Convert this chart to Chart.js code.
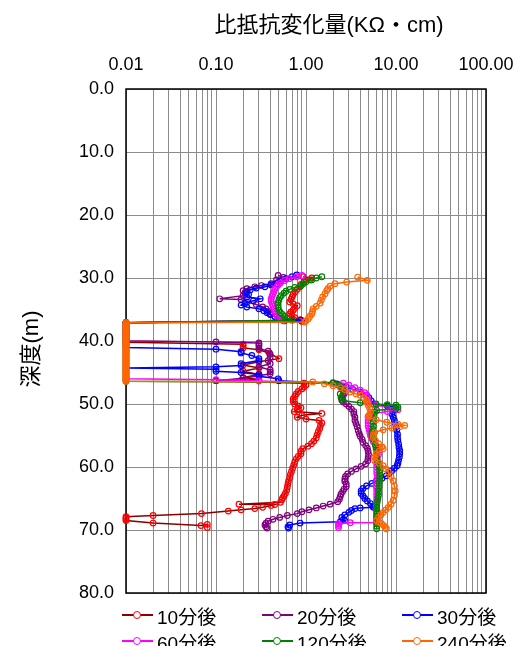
<!DOCTYPE html>
<html><head><meta charset="utf-8">
<script src="https://cdn.jsdelivr.net/npm/chart.js@4/dist/chart.umd.min.js"></script>
<style>
html,body{margin:0;padding:0;background:#fff;}
#wrap{position:relative;width:528px;height:646px;overflow:hidden;}
#c{position:absolute;left:0;top:0;}
#overlay{position:absolute;left:0;top:0;width:528px;height:646px;pointer-events:none;font-family:'Liberation Sans','Noto Sans CJK JP',sans-serif;color:#000;}
.item{position:absolute;height:20px;display:flex;align-items:center;white-space:nowrap;font-size:19px;}
.sample{position:relative;width:31px;height:20px;margin-right:4px;}
.sample .ln{position:absolute;left:0;right:0;top:9px;height:2px;}
.sample .pt{position:absolute;left:11px;top:6px;width:6px;height:6px;border:1px solid;border-radius:50%;background:#fff;}
.axt{position:absolute;font-size:22px;line-height:26px;height:26px;white-space:nowrap;text-align:center;width:300px;}
#xt{left:179px;top:12px;}
#yt{left:-119px;top:336px;transform:rotate(-90deg);transform-origin:150px 13px;}
</style></head>
<body>
<div id="wrap"><canvas id="c" width="528" height="646"></canvas>
<div id="overlay"><div class="axt" id="xt"></div><div class="axt" id="yt"></div></div></div>
<script>
const xTitle = '比抵抗変化量(KΩ・cm)';
const yTitle = '深度(m)';
const seriesLabels = ['10分後','20分後','30分後','60分後','120分後','240分後'];
const xGridValues = [0.01,0.02,0.03,0.04,0.05,0.06,0.07,0.08,0.09,
  0.1,0.2,0.3,0.4,0.5,0.6,0.7,0.8,0.9,
  1,2,3,4,5,6,7,8,9,
  10,20,30,40,50,60,70,80,90,100];
const xLabelValues = [0.01,0.1,1,10,100];
const xLabelTexts = ['0.01','0.10','1.00','10.00','100.00'];
const yTickValues = [0,10,20,30,40,50,60,70,80];

// 10分後
const depth10 = [29.8,30.0,30.3,30.6,31.0,31.4,31.8,32.2,32.6,33.0,
  33.4,33.8,34.1,34.4,34.8,35.1,35.4,35.7,36.0,36.3,
  36.6,36.9,
  37.1,37.6,38.1,38.6,39.1,39.6,40.2,
  40.5,40.8,41.1,41.4,41.9,42.8,43.3,43.8,44.3,44.8,
  45.3,45.8,46.1,46.3,
  46.7,47.0,47.3,47.6,48.0,48.4,48.8,49.2,49.6,50.0,
  50.3,50.6,50.9,51.2,51.5,51.8,52.1,52.4,52.6,53.0,
  53.4,53.9,54.4,54.9,55.4,55.9,56.3,56.7,57.1,57.5,
  57.9,58.3,58.7,59.2,59.7,60.2,60.7,61.2,61.7,62.2,
  62.7,63.2,63.7,64.2,64.6,64.9,65.2,65.6,65.9,65.95,
  66.1,66.4,66.6,66.8,67.0,67.4,67.7,67.9,68.1,68.3,
  68.5,68.9,69.3,69.1,69.6];
const val10 = [0.93,1.16,1.10,0.95,0.88,0.86,0.80,0.76,0.72,0.70,
  0.68,0.66,0.72,0.80,0.75,0.72,0.68,0.66,0.70,0.75,
  0.86,0.90,
  0.01,0.01,0.01,0.01,0.01,0.01,0.01,
  0.2,0.2,0.2,0.3,0.39,0.5,0.3,0.2,0.3,0.2,
  0.3,0.2,0.3,0.1,
  0.95,1.0,0.95,0.9,0.82,0.78,0.75,0.72,0.72,0.75,
  0.82,0.88,0.80,0.74,1.5,0.9,0.8,1.0,1.4,1.5,
  1.45,1.42,1.37,1.33,1.3,1.22,1.15,1.05,0.92,0.88,
  0.88,0.82,0.78,0.75,0.73,0.71,0.69,0.67,0.66,0.64,
  0.63,0.62,0.61,0.59,0.57,0.55,0.54,0.52,0.18,0.45,
  0.41,0.33,0.27,0.19,0.137,0.069,0.02,0.01,0.01,0.01,
  0.01,0.02,0.068,0.08,0.08];

// 20分後
const depth20 = [29.6,29.9,30.3,30.9,31.2,31.4,31.7,32.0,32.4,32.8,
  33.3,33.4,33.8,34.2,34.6,34.9,35.3,35.7,36.1,36.5,
  36.8,
  37.1,37.6,38.1,38.6,39.1,39.6,39.95,
  40.15,40.3,40.55,40.8,41.2,41.6,42.1,42.6,43.1,43.6,
  44.1,44.6,44.9,45.2,45.5,45.9,46.3,
  46.7,47.0,47.4,47.8,48.2,48.6,49.0,49.4,49.7,50.0,
  50.4,50.8,51.2,51.6,52.1,52.6,53.1,53.6,54.2,54.7,
  55.1,55.6,56.1,56.6,57.0,57.5,58.0,58.5,59.0,59.5,
  59.9,60.3,60.7,61.1,61.5,61.9,62.3,62.7,63.1,63.5,
  63.9,64.3,64.7,65.1,65.5,65.9,66.2,66.5,66.8,67.1,
  67.4,67.7,68.0,68.3,68.6,68.9,69.2,69.5,69.7];
const val20 = [0.49,0.56,0.47,0.41,0.32,0.27,0.22,0.2,0.21,0.2,
  0.11,0.19,0.22,0.28,0.33,0.36,0.38,0.4,0.45,0.52,
  0.58,
  0.01,0.01,0.01,0.01,0.01,0.01,0.01,
  0.1,0.3,0.3,0.3,0.3,0.38,0.4,0.4,0.38,0.4,
  0.3,0.4,0.4,0.4,0.3,0.2,0.1,
  2.0,2.3,2.5,2.6,2.7,2.6,2.5,2.5,2.6,2.8,
  3.0,3.2,3.4,3.4,3.5,3.5,3.6,3.7,3.8,3.9,
  4.0,4.2,4.3,4.6,4.8,4.9,4.95,4.9,4.85,4.6,
  4.1,3.6,3.2,2.9,2.75,2.7,2.7,2.8,2.8,2.65,
  2.55,2.45,2.4,2.35,2.25,1.85,1.55,1.3,1.08,0.9,
  0.8,0.62,0.51,0.43,0.38,0.36,0.35,0.36,0.37];

// 30分後
const depth30 = [29.5,29.8,30.1,30.5,30.9,31.1,31.4,31.6,31.9,32.2,
  32.6,33.0,33.3,33.6,34.0,34.3,34.6,34.9,35.2,35.5,
  35.8,36.1,36.4,36.7,
  37.1,37.6,38.1,38.6,39.1,39.6,40.1,40.6,41.05,
  41.3,41.7,41.9,42.3,42.8,43.1,43.6,43.9,44.1,44.3,
  44.5,44.8,45.0,45.3,45.6,46.0,46.3,
  46.8,47.1,47.3,47.7,48.1,48.6,49.0,49.5,50.0,50.3,
  50.5,50.8,51.2,51.6,52.1,52.6,53.1,53.7,54.2,54.8,
  55.3,55.8,56.4,56.9,57.4,57.9,58.4,58.9,59.4,59.8,
  60.2,60.6,61.0,61.4,61.8,62.2,62.6,63.0,63.4,63.8,
  64.2,64.6,65.0,65.4,65.8,66.2,66.4,66.5,66.6,66.9,
  67.2,67.6,68.0,68.3,68.5,68.7,68.9,69.2,69.5,69.7];
const val30 = [0.79,0.7,0.6,0.52,0.47,0.41,0.35,0.28,0.24,0.22,
  0.23,0.22,0.31,0.26,0.21,0.19,0.22,0.3,0.34,0.37,
  0.4,0.45,0.52,0.88,
  0.01,0.01,0.01,0.01,0.01,0.01,0.01,0.01,0.01,
  0.1,0.19,0.19,0.25,0.3,0.3,0.19,0.19,0.1,0.01,
  0.1,0.1,0.19,0.3,0.3,0.49,0.5,
  2.2,2.4,2.8,3.3,4.0,4.7,5.0,5.3,5.6,8.0,
  10.0,9.5,9.2,9.0,9.3,9.6,9.8,10.0,10.2,10.4,
  10.4,10.5,10.7,10.8,11.0,11.0,10.9,10.7,10.5,10.3,
  9.6,9.0,8.4,7.8,7.0,6.1,5.4,4.7,4.3,4.1,
  4.1,4.3,4.5,4.8,5.2,5.5,5.6,4.0,3.5,3.2,
  3.0,2.7,2.5,2.6,2.7,2.4,0.86,0.66,0.63,0.64];

// 60分後
const depth60 = [29.6,29.8,30.1,30.4,30.8,31.1,31.4,31.8,32.2,32.5,
  32.9,33.3,33.7,34.1,34.5,34.9,35.3,35.7,36.1,36.5,
  36.8,
  37.1,37.6,38.1,38.6,39.1,39.6,40.1,40.6,41.1,41.6,
  42.1,42.6,43.1,43.6,44.1,44.6,45.1,45.6,46.0,
  46.15,46.35,
  46.7,47.0,47.4,47.8,48.2,48.6,49.0,49.4,49.8,50.2,
  50.6,50.9,51.2,51.6,52.0,52.5,53.0,53.5,54.0,54.5,
  55.0,55.5,56.0,56.5,57.0,57.5,58.0,58.5,59.0,59.5,
  60.0,60.5,61.0,61.5,62.0,62.5,63.0,63.5,64.0,64.5,
  65.0,65.5,66.0,66.5,67.0,67.5,68.0,68.5,68.8,68.85,
  69.0,69.3,69.6];
const val60 = [0.9,0.79,0.65,0.58,0.52,0.49,0.47,0.45,0.44,0.43,
  0.42,0.41,0.41,0.42,0.43,0.44,0.45,0.46,0.48,0.52,
  0.56,
  0.01,0.01,0.01,0.01,0.01,0.01,0.01,0.01,0.01,0.01,
  0.01,0.01,0.01,0.01,0.01,0.01,0.01,0.01,0.01,
  0.1,0.3,
  2.6,3.0,3.5,4.0,4.5,4.7,4.8,4.9,5.0,6.0,
  9.0,10.5,8.0,5.2,4.9,4.9,4.9,4.9,5.0,5.1,
  5.2,5.4,5.6,5.9,6.3,6.5,6.4,6.2,6.1,6.1,
  6.1,6.1,6.1,6.2,6.1,6.1,6.0,6.1,6.1,6.1,
  6.1,6.1,6.1,6.1,6.1,6.1,6.1,6.1,6.1,3.1,
  2.3,2.3,2.3];

// 120分後
const depth120 = [29.8,30.0,30.3,30.6,30.9,31.2,31.5,31.8,32.1,32.4,
  32.8,33.1,33.5,33.9,34.3,34.7,35.1,35.5,35.8,36.1,
  36.4,36.7,
  37.1,37.6,38.1,38.6,39.1,39.6,40.1,40.6,41.1,41.6,
  42.1,42.6,43.1,43.6,44.1,44.6,45.1,45.6,46.1,46.4,
  46.6,47.0,47.4,47.9,48.4,49.0,49.5,49.8,50.0,50.1,
  50.2,50.5,50.8,51.0,51.3,51.8,52.3,52.9,53.5,54.0,
  54.5,55.0,55.5,56.0,56.5,57.0,57.5,58.0,58.5,59.0,
  59.5,60.0,60.5,61.0,61.5,62.0,62.5,63.0,63.5,64.0,
  64.5,65.0,65.5,66.0,66.5,67.0,67.5,68.0,68.5,69.0,
  69.4,69.8];
const val120 = [1.5,1.3,1.16,1.0,0.93,0.88,0.75,0.66,0.6,0.57,
  0.53,0.51,0.5,0.49,0.49,0.49,0.5,0.52,0.55,0.58,
  0.62,0.7,
  0.01,0.01,0.01,0.01,0.01,0.01,0.01,0.01,0.01,0.01,
  0.01,0.01,0.01,0.01,0.01,0.01,0.01,0.01,0.01,0.01,
  2.0,2.3,2.5,2.6,2.4,2.45,2.6,4.0,6.0,8.0,
  10.0,10.5,10.0,6.1,5.8,5.7,5.6,5.6,5.6,5.5,
  5.4,5.4,5.6,5.8,5.9,6.0,6.1,6.1,6.1,6.2,
  6.4,6.5,6.6,6.6,6.6,6.6,6.5,6.5,6.4,6.4,
  6.4,6.3,6.2,6.1,6.1,6.1,6.1,6.1,6.1,6.1,
  6.1,6.1];

// 240分後
const depth240 = [29.85,30.37,30.64,30.9,31.3,31.7,32.0,32.5,33.0,33.5,
  34.0,34.5,34.9,35.3,35.7,36.1,36.45,36.8,37.0,
  37.1,37.25,37.4,37.55,37.7,37.85,38.0,38.15,38.3,38.45,
  38.6,38.75,38.9,39.05,39.2,39.35,39.5,39.65,39.8,39.95,
  40.1,40.25,40.4,40.55,40.7,40.85,41.0,41.15,41.3,41.45,
  41.6,41.75,41.9,42.05,42.2,42.35,42.5,42.65,42.8,42.95,
  43.1,43.25,43.4,43.55,43.7,43.85,44.0,44.15,44.3,44.45,
  44.6,44.75,44.9,45.05,45.2,45.35,45.5,45.65,45.8,45.95,
  46.1,46.25,46.4,
  46.5,46.8,47.1,47.4,47.7,48.1,48.4,48.6,49.0,49.4,
  49.8,50.2,50.7,51.3,51.8,52.1,52.5,52.9,53.2,53.4,
  53.6,53.8,54.1,54.5,54.9,55.3,55.8,56.3,56.8,57.1,
  57.5,57.9,58.4,59.0,59.4,59.8,60.3,60.8,61.5,62.2,
  63.0,63.8,64.5,65.3,65.9,66.4,66.8,67.2,67.6,68.0,
  68.5,68.8,69.0,69.3,69.6,69.8];
const val240 = [3.75,4.8,2.83,2.1,1.85,1.75,1.7,1.63,1.53,1.48,
  1.43,1.3,1.2,1.18,1.16,1.1,1.06,1.0,0.97,
  0.01,0.01,0.01,0.01,0.01,0.01,0.01,0.01,0.01,0.01,
  0.01,0.01,0.01,0.01,0.01,0.01,0.01,0.01,0.01,0.01,
  0.01,0.01,0.01,0.01,0.01,0.01,0.01,0.01,0.01,0.01,
  0.01,0.01,0.01,0.01,0.01,0.01,0.01,0.01,0.01,0.01,
  0.01,0.01,0.01,0.01,0.01,0.01,0.01,0.01,0.01,0.01,
  0.01,0.01,0.01,0.01,0.01,0.01,0.01,0.01,0.01,0.01,
  0.01,0.01,0.01,
  1.19,1.6,2.0,2.4,2.7,3.1,3.6,4.0,4.4,4.7,
  4.8,4.9,5.1,5.2,5.0,4.9,6.0,7.9,10.5,12.5,
  11.0,9.0,7.2,5.8,5.6,5.6,5.9,6.4,7.0,7.2,
  6.5,6.1,5.8,5.8,6.5,7.2,7.7,8.2,8.8,9.3,
  9.6,9.8,9.6,9.3,8.8,8.2,7.7,7.2,6.8,6.4,
  6.1,6.5,6.9,7.3,7.6,7.8];

const seriesDepths = [depth10, depth20, depth30, depth60, depth120, depth240];
const seriesValues = [val10, val20, val30, val60, val120, val240];

// styles
const lineColors = ['#8B0000','#800080','#0000FF','#FF00FF','#008000','#FF6600'];
const markerColors = ['#FF0000','#800080','#0000FF','#FF00FF','#008000','#FF6600'];
const FONT_FAMILY = "'Liberation Sans','Noto Sans CJK JP','Noto Sans CJK SC',sans-serif";

const datasets = seriesLabels.map((lab, i) => ({
  label: lab,
  data: seriesDepths[i].map((d, j) => ({ x: seriesValues[i][j], y: d })),
  showLine: true,
  borderColor: lineColors[i],
  backgroundColor: lineColors[i],
  borderWidth: 1.5,
  pointRadius: 2.8,
  pointHoverRadius: 2.8,
  pointBorderWidth: 1.2,
  pointBorderColor: markerColors[i],
  pointBackgroundColor: 'rgba(255,255,255,0)',
  tension: 0,
  clip: false,
  order: seriesLabels.length - i
}));

const framePlugin = {
  id: 'frame',
  beforeDatasetsDraw(chart) {
    const a = chart.chartArea, ctx = chart.ctx;
    ctx.save();
    ctx.strokeStyle = '#000';
    ctx.lineWidth = 1.5;
    ctx.strokeRect(a.left, a.top, a.right - a.left, a.bottom - a.top);
    ctx.restore();
  }
};

new Chart(document.getElementById('c'), {
  type: 'scatter',
  data: { datasets },
  options: {
    responsive: false,
    animation: false,
    devicePixelRatio: 1,
    events: [],
    layout: { padding: { left: 0, top: 0, right: 42, bottom: 53 } },
    plugins: { legend: { display: false }, tooltip: { enabled: false } },
    scales: {
      x: {
        type: 'logarithmic',
        position: 'top',
        min: 0.01, max: 100,
        afterBuildTicks: s => { s.ticks = xGridValues.map(v => ({ value: v })); },
        afterFit: s => { s.height = 89; },
        ticks: {
          autoSkip: false, maxRotation: 0, minRotation: 0, padding: 13,
          color: '#000', font: { family: FONT_FAMILY, size: 18 },
          callback: (v) => { const k = xLabelValues.indexOf(v); return k >= 0 ? xLabelTexts[k] : ''; }
        },
        grid: { color: '#8c8c8c', lineWidth: 1, drawTicks: false },
        border: { display: false },
        title: { display: false }
      },
      y: {
        type: 'linear',
        reverse: true,
        min: 0, max: 80,
        afterBuildTicks: s => { s.ticks = yTickValues.map(v => ({ value: v })); },
        afterFit: s => { s.width = 126; },
        ticks: { padding: 12, color: '#000', font: { family: FONT_FAMILY, size: 18 }, callback: v => Number(v).toFixed(1) },
        grid: { color: '#8c8c8c', lineWidth: 1, drawTicks: false },
        border: { display: false },
        title: { display: false }
      }
    }
  },
  plugins: [framePlugin]
});

// axis titles (real text)
document.getElementById('xt').textContent = xTitle;
document.getElementById('yt').textContent = yTitle;

// HTML legend
const overlay = document.getElementById('overlay');
seriesLabels.forEach((lab, i) => {
  const col = i % 3, row = Math.floor(i / 3);
  const it = document.createElement('div');
  it.className = 'item';
  it.style.left = (122 + col * 140) + 'px';
  it.style.top = (605 + row * 26) + 'px';
  it.innerHTML = '<span class="sample"><span class="ln" style="background:' + lineColors[i] + '"></span><span class="pt" style="border-color:' + markerColors[i] + '"></span></span><span class="txt"></span>';
  it.querySelector('.txt').textContent = lab;
  overlay.appendChild(it);
});
</script>
</body></html>
